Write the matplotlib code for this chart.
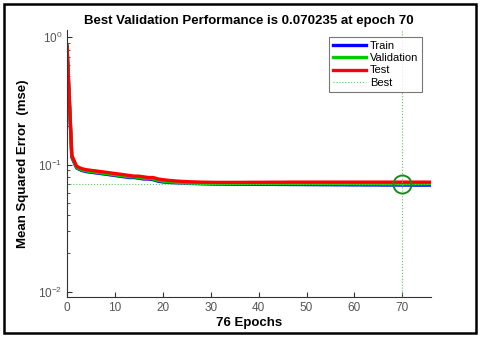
import numpy as np
import matplotlib
matplotlib.use("Agg")
import matplotlib.pyplot as plt
from matplotlib.patches import Rectangle

plt.rcParams["font.family"] = ["Liberation Sans", "DejaVu Sans"]
plt.rcParams["mathtext.fontset"] = "custom"
plt.rcParams["mathtext.rm"] = "Liberation Sans"

# === Data ===
epochs = list(range(77))
train = [0.84, 0.114, 0.094, 0.090, 0.088, 0.087, 0.086, 0.085, 0.084, 0.083,
         0.082, 0.081, 0.080, 0.079, 0.079, 0.078, 0.077, 0.077, 0.076, 0.074,
         0.073, 0.0725, 0.0720, 0.0717, 0.0714, 0.0712, 0.0710, 0.0708, 0.0706, 0.0705,
         0.0703, 0.0702, 0.0702, 0.0701, 0.0701, 0.0700, 0.0700, 0.0700, 0.0699, 0.0699,
         0.0699, 0.0698, 0.0698, 0.0698, 0.0697, 0.0697, 0.0697, 0.0696, 0.0696, 0.0696,
         0.0695, 0.0695, 0.0695, 0.0694, 0.0694, 0.0694, 0.0693, 0.0693, 0.0693, 0.0692,
         0.0692, 0.0692, 0.0691, 0.0691, 0.0691, 0.0691, 0.0690, 0.0690, 0.0690, 0.0690,
         0.0690, 0.0690, 0.0689, 0.0689, 0.0689, 0.0689, 0.0689]
valid = [0.85, 0.116, 0.095, 0.091, 0.089, 0.088, 0.087, 0.086, 0.085, 0.084,
         0.083, 0.082, 0.081, 0.080, 0.080, 0.079, 0.078, 0.078, 0.077, 0.075,
         0.074, 0.0733, 0.0728, 0.0724, 0.0720, 0.0717, 0.0715, 0.0713, 0.0711, 0.0710,
         0.0709, 0.0709, 0.0708, 0.0708, 0.0708, 0.0708, 0.0708, 0.0708, 0.0708, 0.0708,
         0.0708, 0.0708, 0.0708, 0.0708, 0.0708, 0.0708, 0.0708, 0.0707, 0.0707, 0.0707,
         0.0707, 0.0707, 0.0707, 0.0706, 0.0706, 0.0706, 0.0706, 0.0705, 0.0705, 0.0705,
         0.0705, 0.0704, 0.0704, 0.0704, 0.0704, 0.0704, 0.0703, 0.0703, 0.0703, 0.0703,
         0.070235, 0.0703, 0.0704, 0.0704, 0.0705, 0.0705, 0.0706]
test = [0.86, 0.118, 0.097, 0.093, 0.091, 0.090, 0.089, 0.088, 0.087, 0.086,
        0.085, 0.084, 0.083, 0.082, 0.081, 0.081, 0.080, 0.079, 0.079, 0.077,
        0.076, 0.0752, 0.0746, 0.0741, 0.0737, 0.0734, 0.0731, 0.0729, 0.0727, 0.0726,
        0.0725, 0.0724, 0.0724, 0.0724, 0.0724, 0.0724, 0.0724, 0.0724, 0.0725, 0.0725,
        0.0725, 0.0725, 0.0726, 0.0726, 0.0726, 0.0726, 0.0727, 0.0727, 0.0727, 0.0727,
        0.0727, 0.0727, 0.0727, 0.0727, 0.0727, 0.0727, 0.0727, 0.0727, 0.0727, 0.0727,
        0.0727, 0.0727, 0.0727, 0.0727, 0.0727, 0.0727, 0.0727, 0.0727, 0.0727, 0.0727,
        0.0727, 0.0727, 0.0727, 0.0727, 0.0727, 0.0727, 0.0727]
best_epoch = 70
best_perf = 0.070235
xticks = [0, 10, 20, 30, 40, 50, 60, 70]

# === Figure ===
fig = plt.figure(figsize=(4.8, 3.37), dpi=100)
fig.patches.append(Rectangle((0.009, 0.012), 0.982, 0.976, transform=fig.transFigure,
                             fill=False, edgecolor="black", linewidth=1.8))
ax = fig.add_axes([0.1396, 0.1187, 0.7584, 0.7923])

ax.semilogy(epochs, train, color="#0000ff", linewidth=2.4, label="Train")
ax.semilogy(epochs, valid, color="#00cc00", linewidth=2.4, label="Validation")
ax.semilogy(epochs, test, color="#ff0000", linewidth=2.4, label="Test")
ax.axhline(best_perf, color="#55cc55", linestyle=":", linewidth=0.8, label="Best")
ax.axvline(best_epoch, color="#55cc55", linestyle=":", linewidth=0.8)
ax.plot([best_epoch], [best_perf], marker="o", markersize=13, markerfacecolor="none",
        markeredgecolor="#1a8a1a", markeredgewidth=1.4, linestyle="none")

ax.set_xlim(0, 76)
ax.set_ylim(0.0091, 1.14)
ax.set_xticks(xticks)
ax.spines["top"].set_visible(False)
ax.spines["right"].set_visible(False)
for s in ["left", "bottom"]:
    ax.spines[s].set_color("#333333")
    ax.spines[s].set_linewidth(0.8)
ax.tick_params(which="both", direction="in", colors="#333333", labelcolor="#555555",
               labelsize=8.5)
ax.tick_params(which="minor", length=2)

ax.set_title("Best Validation Performance is 0.070235 at epoch 70",
             fontsize=9.5, fontweight="bold", pad=4)
ax.set_xlabel("76 Epochs", fontsize=9.5, fontweight="bold", labelpad=2)
ax.set_ylabel("Mean Squared Error  (mse)", fontsize=9.5, fontweight="bold")
ax.yaxis.set_label_coords(-0.105, 0.5)

leg = ax.legend(loc="upper right", bbox_to_anchor=(0.975, 0.975), borderaxespad=0,
                fontsize=8, frameon=True, fancybox=False, handlelength=3.0,
                handletextpad=0.3, borderpad=0.35, labelspacing=0.22)
leg.get_frame().set_edgecolor("#555555")
leg.get_frame().set_linewidth(0.8)

fig.savefig("out.png", dpi=100)
